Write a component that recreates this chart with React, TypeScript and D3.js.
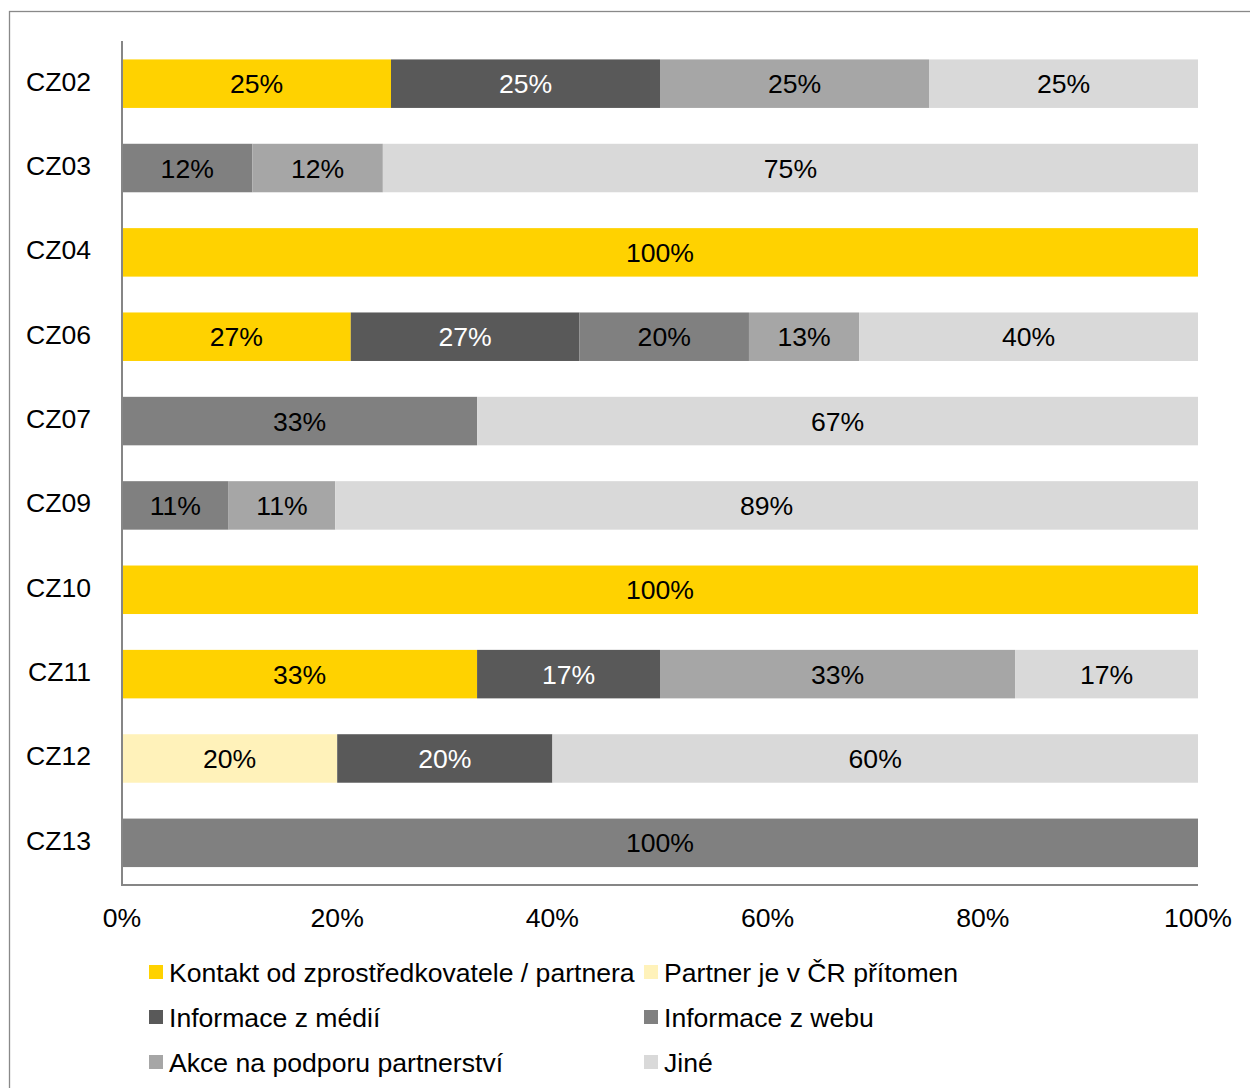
import React from "react";
import * as d3 from "d3";

const categories = ["CZ02", "CZ03", "CZ04", "CZ06", "CZ07", "CZ09", "CZ10", "CZ11", "CZ12", "CZ13"];
const seriesNames = [
  "Kontakt od zprostředkovatele / partnera",
  "Partner je v ČR přítomen",
  "Informace z médií",
  "Informace z webu",
  "Akce na podporu partnerství",
  "Jiné",
];
const kontakt = [25, 0, 100, 27, 0, 0, 100, 33, 0, 0];
const partner = [0, 0, 0, 0, 0, 0, 0, 0, 20, 0];
const media = [25, 0, 0, 27, 0, 0, 0, 17, 20, 0];
const web = [0, 12, 0, 20, 33, 11, 0, 0, 0, 100];
const akce = [25, 12, 0, 13, 0, 11, 0, 33, 0, 0];
const jine = [25, 75, 0, 40, 67, 89, 0, 17, 60, 0];
const colors = ["#FFD200", "#FFF2BA", "#595959", "#808080", "#A6A6A6", "#D9D9D9"];
const labelColors = ["#000", "#000", "#fff", "#000", "#000", "#000"];
const xTicks = [0, 0.2, 0.4, 0.6, 0.8, 1];

const seriesValues = [kontakt, partner, media, web, akce, jine];

const FONT = "'Liberation Sans', Arial, sans-serif";
const FS = 26.6;

export default function App() {
  const W = 1250, H = 1088;
  const x = d3.scaleLinear().domain([0, 1]).range([122, 1198]);
  const y = d3.scaleBand<string>().domain(categories).range([41.5, 885]).paddingInner(0.425).paddingOuter(0.2125);

  const rows = categories.map((c, i) => {
    const obj: any = { cat: c };
    seriesValues.forEach((s, k) => (obj["s" + k] = s[i]));
    return obj;
  });
  const keys = seriesValues.map((_, k) => "s" + k);
  const stack = d3.stack<any>().keys(keys).offset(d3.stackOffsetExpand);
  const stacked = stack(rows);

  const legendItems = seriesNames.map((n, k) => ({
    name: n,
    color: colors[k],
    x: k % 2 === 0 ? 149 : 644,
    y: [972, 1017, 1062][Math.floor(k / 2)],
  }));

  return (
    <svg width={W} height={H} style={{ position: "absolute", left: 0, top: 0, display: "block" }} fontFamily={FONT}>
      <rect x={0} y={0} width={W} height={H} fill="#fff" />
      <rect x={9.5} y={11.5} width={1400} height={1300} fill="none" stroke="#898989" strokeWidth={1.3} />
      {stacked.map((layer, k) => (
        <g key={k}>
          {layer.map((d, i) => {
            const raw = seriesValues[k][i];
            if (!raw) return null;
            const x0 = x(d[0]), x1 = x(d[1]);
            const yy = y(categories[i])!;
            return (
              <g key={i}>
                <rect x={x0} y={yy} width={x1 - x0} height={y.bandwidth()} fill={colors[k]} />
                <text
                  x={(x0 + x1) / 2}
                  y={yy + y.bandwidth() / 2 + 9.5}
                  textAnchor="middle"
                  fontSize={FS}
                  fill={labelColors[k]}
                >
                  {raw + "%"}
                </text>
              </g>
            );
          })}
        </g>
      ))}
      <line x1={122} x2={122} y1={41} y2={885.5} stroke="#868686" strokeWidth={2} />
      <line x1={121} x2={1198} y1={885} y2={885} stroke="#868686" strokeWidth={2} />
      {categories.map((c) => (
        <text key={c} x={91} y={y(c)! + y.bandwidth() / 2 + 7} textAnchor="end" fontSize={FS} fill="#000">
          {c}
        </text>
      ))}
      {xTicks.map((t) => (
        <text key={t} x={x(t)} y={926.5} textAnchor="middle" fontSize={FS} fill="#000">
          {Math.round(t * 100) + "%"}
        </text>
      ))}
      {legendItems.map((l) => (
        <g key={l.name}>
          <rect x={l.x} y={l.y - 7} width={14} height={14} fill={l.color} />
          <text x={l.x + 20} y={l.y + 9.5} fontSize={FS} fill="#000">
            {l.name}
          </text>
        </g>
      ))}
    </svg>
  );
}
